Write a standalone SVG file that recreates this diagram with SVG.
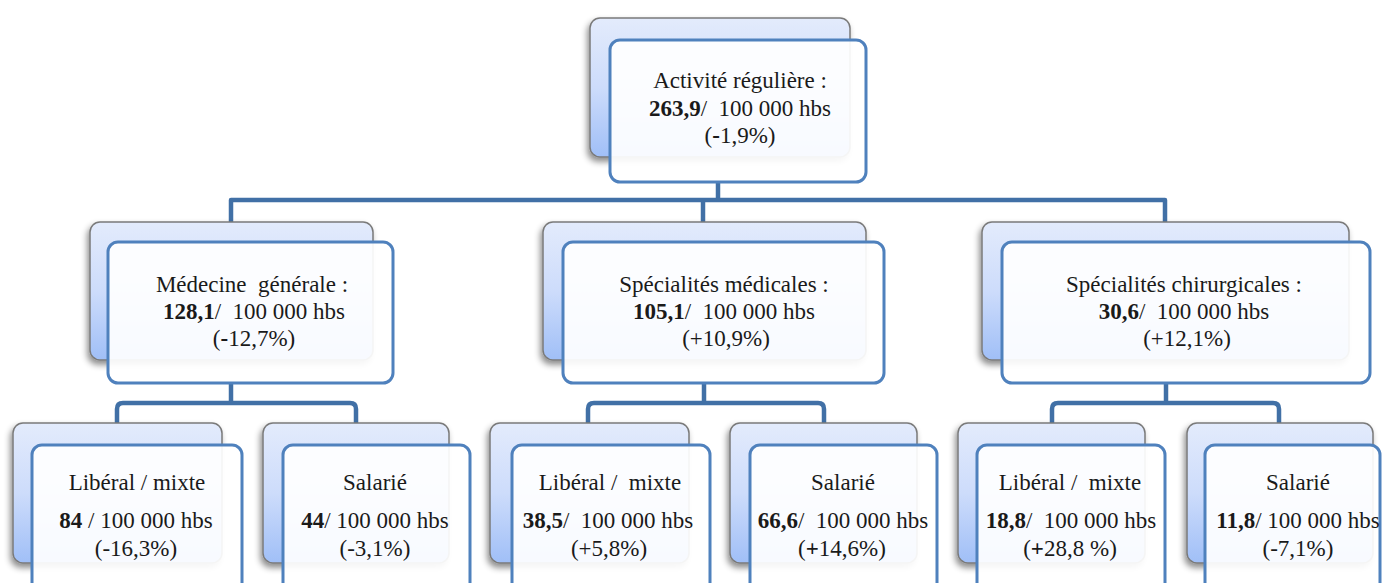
<svg xmlns="http://www.w3.org/2000/svg" width="1383" height="583" viewBox="0 0 1383 583">
<defs>
<linearGradient id="bg" x1="0" y1="0" x2="0" y2="1">
<stop offset="0" stop-color="#e3ebfc"/>
<stop offset="0.5" stop-color="#cddcfb"/>
<stop offset="1" stop-color="#a0bff7"/>
</linearGradient>
<filter id="sh" x="-10%" y="-10%" width="120%" height="130%">
<feDropShadow dx="-2" dy="4" stdDeviation="3" flood-color="#000" flood-opacity="0.45"/>
</filter>
<style>
.back{fill:url(#bg);stroke:#7a7a7a;stroke-width:1.5;filter:url(#sh)}
.front{fill:#ffffff;fill-opacity:0.92;stroke:#4f81bd;stroke-width:3}
.conn{fill:none;stroke:#4170a6;stroke-width:4.5;stroke-linejoin:round}
.t{font-family:"Liberation Serif","Times New Roman",serif;font-size:23px;fill:#1a1a1a;text-anchor:middle}
.b{font-weight:bold}
</style>
</defs>
<rect width="1383" height="583" fill="#ffffff"/>
<g id="connectors">
<path class="conn" d="M718 182 V200"/>
<path class="conn" d="M231 222 V200 H1165 V222"/>
<path class="conn" d="M703 200 V222"/>
<path class="conn" d="M231 383 V403"/>
<path class="conn" d="M117 424 V409 Q117 403 123 403 H350 Q356 403 356 409 V424"/>
<path class="conn" d="M704 383 V403"/>
<path class="conn" d="M588 424 V409 Q588 403 594 403 H818 Q824 403 824 409 V424"/>
<path class="conn" d="M1166 383 V403"/>
<path class="conn" d="M1052 424 V409 Q1052 403 1058 403 H1273 Q1279 403 1279 409 V424"/>
</g>
<g id="n-top">
<rect class="back" x="590" y="18" width="260" height="139" rx="10"/>
<rect class="front" x="610" y="40" width="256" height="142" rx="10"/>
<text class="t" x="740" y="88">Activité régulière :</text>
<text class="t" x="740" y="116" xml:space="preserve"><tspan class="b">263,9</tspan>/  100 000 hbs</text>
<text class="t" x="740" y="143">(<tspan class="b">-</tspan>1,9%)</text>
</g>
<g id="n-medgen">
<rect class="back" x="90" y="222" width="283" height="138" rx="10"/>
<rect class="front" x="108" y="242" width="285" height="141" rx="10"/>
<text class="t" x="252" y="292" xml:space="preserve">Médecine  générale :</text>
<text class="t" x="254" y="319" xml:space="preserve"><tspan class="b">128,1</tspan>/  100 000 hbs</text>
<text class="t" x="254" y="346">(<tspan class="b">-</tspan>12,7%)</text>
</g>
<g id="n-specmed">
<rect class="back" x="543" y="222" width="323" height="138" rx="10"/>
<rect class="front" x="563" y="242" width="321" height="141" rx="10"/>
<text class="t" x="724" y="292">Spécialités médicales :</text>
<text class="t" x="724" y="319" xml:space="preserve"><tspan class="b">105,1</tspan>/  100 000 hbs</text>
<text class="t" x="726" y="346">(+10,9%)</text>
</g>
<g id="n-specchir">
<rect class="back" x="982" y="222" width="367" height="138" rx="10"/>
<rect class="front" x="1002" y="242" width="368" height="141" rx="10"/>
<text class="t" x="1184" y="292">Spécialités chirurgicales :</text>
<text class="t" x="1184" y="319" xml:space="preserve"><tspan class="b">30,6</tspan>/  100 000 hbs</text>
<text class="t" x="1187" y="346">(+12,1%)</text>
</g>
<g id="n-lib1">
<rect class="back" x="13" y="423" width="209" height="140" rx="10"/>
<rect class="front" x="32" y="445" width="210" height="150" rx="10"/>
<text class="t" x="137" y="490">Libéral / mixte</text>
<text class="t" x="136" y="528"><tspan class="b">84</tspan> / 100 000 hbs</text>
<text class="t" x="136" y="556">(-16,3%)</text>
</g>
<g id="n-sal1">
<rect class="back" x="263" y="423" width="186" height="140" rx="10"/>
<rect class="front" x="283" y="445" width="187" height="150" rx="10"/>
<text class="t" x="375" y="490">Salarié</text>
<text class="t" x="375" y="528"><tspan class="b">44</tspan>/ 100 000 hbs</text>
<text class="t" x="375" y="556">(-3,1%)</text>
</g>
<g id="n-lib2">
<rect class="back" x="490" y="423" width="199" height="140" rx="10"/>
<rect class="front" x="512" y="445" width="198" height="150" rx="10"/>
<text class="t" x="610" y="490" xml:space="preserve">Libéral /  mixte</text>
<text class="t" x="608" y="528" xml:space="preserve"><tspan class="b">38,5</tspan>/  100 000 hbs</text>
<text class="t" x="609" y="556">(+5,8%)</text>
</g>
<g id="n-sal2">
<rect class="back" x="730" y="423" width="187" height="140" rx="10"/>
<rect class="front" x="750" y="445" width="187" height="150" rx="10"/>
<text class="t" x="843" y="490">Salarié</text>
<text class="t" x="843" y="528" xml:space="preserve"><tspan class="b">66,6</tspan>/  100 000 hbs</text>
<text class="t" x="842" y="556">(<tspan class="b">+</tspan>14,6%)</text>
</g>
<g id="n-lib3">
<rect class="back" x="958" y="423" width="187" height="140" rx="10"/>
<rect class="front" x="977" y="445" width="188" height="150" rx="10"/>
<text class="t" x="1070" y="490" xml:space="preserve">Libéral /  mixte</text>
<text class="t" x="1071" y="528" xml:space="preserve"><tspan class="b">18,8</tspan>/  100 000 hbs</text>
<text class="t" x="1070" y="556">(<tspan class="b">+</tspan>28,8 %)</text>
</g>
<g id="n-sal3">
<rect class="back" x="1187" y="423" width="186" height="140" rx="10"/>
<rect class="front" x="1205" y="445" width="175" height="150" rx="10"/>
<text class="t" x="1298" y="490">Salarié</text>
<text class="t" x="1298" y="528"><tspan class="b">11,8</tspan>/ 100 000 hbs</text>
<text class="t" x="1298" y="556">(-7,1%)</text>
</g>
</svg>
